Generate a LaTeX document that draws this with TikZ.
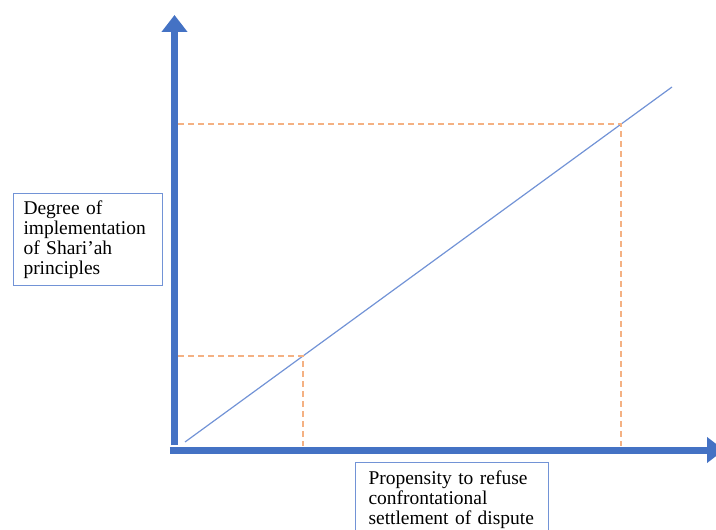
\documentclass[tikz,border=0pt]{standalone}
\usepackage{fontspec}
\setmainfont{Liberation Serif}
\usetikzlibrary{arrows.meta}

\definecolor{axisblue}{RGB}{68,114,196}
\definecolor{lineblue}{RGB}{114,147,214}
\definecolor{dashorange}{RGB}{244,177,131}

\tikzset{every picture/.style={line width=0.75pt}}
\tikzset{
	axis/.style={draw=axisblue, line width=5.25pt, -{Triangle[width=18.75pt,length=12.75pt]}},
	guide/.style={draw=dashorange, line width=0.9pt, dash pattern=on 4.5pt off 3pt},
	labelbox/.style={draw=lineblue, line width=0.8pt, anchor=north west, align=left,
		font=\fontsize{14.6pt}{15pt}\selectfont, text=black}}

\begin{document}
\begin{tikzpicture}[x=0.75pt,y=0.75pt,yscale=-1,xscale=1]
	\useasboundingbox (0,0) rectangle (716,530);

	% axes
	\coordinate (origin) at (174.5,450);
	\coordinate (ytip) at (174.5,15);
	\coordinate (xtip) at (724,450);
	\draw [axis] ([yshift=-3.4pt]origin) -- (ytip);
	\draw [axis] ([xshift=-3.4pt]origin) -- (xtip);

	% line
	\coordinate (lstart) at (185,442);
	\coordinate (lend) at (672,87);
	\coordinate (plow) at (303,356);
	\coordinate (phigh) at (621,124);
	\draw [lineblue, line width=0.9pt] (lstart) -- (lend);

	% dashed guides
	\draw [guide] ([xshift=2.7pt]plow -| origin) -- (plow) -- ([yshift=-2.7pt]plow |- origin);
	\draw [guide] ([xshift=2.7pt]phigh -| origin) -- (phigh) -- ([yshift=-2.7pt]phigh |- origin);

	% Text Node
	\node [labelbox, text width=96.75pt, inner xsep=7.5pt, minimum height=69pt] (ylabel) at (13,193)
		{Degree of\\implementation\\of Shari'ah\\principles};
	% Text Node
	\node [labelbox, text width=125.25pt, inner xsep=9.75pt, inner ysep=6pt] (xlabel) at (355,462)
		{Propensity to refuse\\confrontational\\settlement of dispute};

\end{tikzpicture}
\end{document}
